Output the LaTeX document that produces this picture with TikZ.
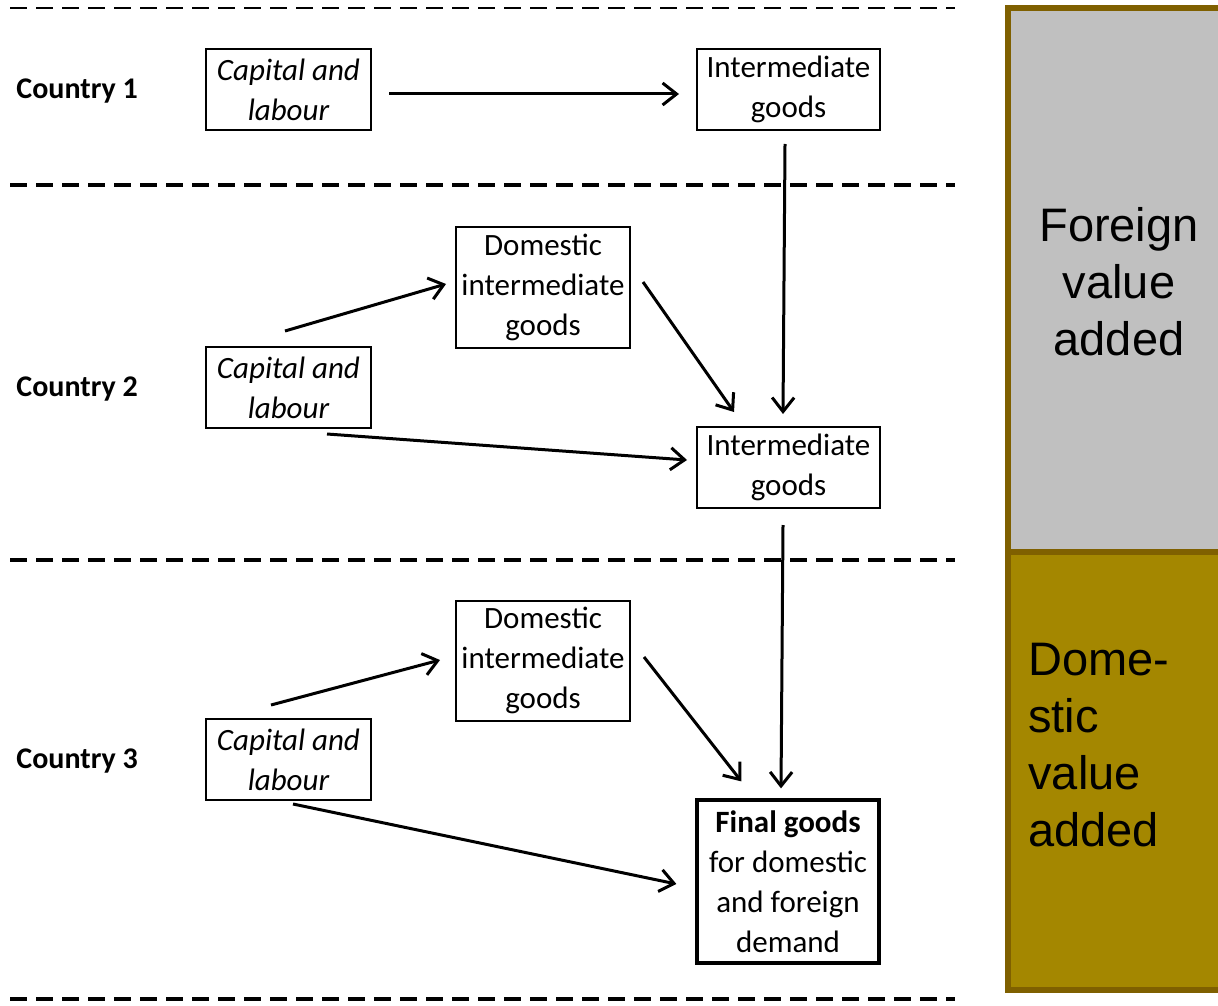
\documentclass[tikz,border=0pt]{standalone}
\usepackage{fontspec}
\setmainfont{Carlito}
\newfontfamily\arialfont{Liberation Sans}
\usetikzlibrary{arrows.meta}
\definecolor{barGray}{RGB}{192,192,192}
\definecolor{barGold}{RGB}{164,135,0}
\definecolor{barEdge}{RGB}{127,96,0}

\begin{document}
\begin{tikzpicture}[x=0.5pt, y=-0.5pt,
        every node/.style={font=\fontsize{15.5}{20}\selectfont},
        box/.style={draw=black, line width=1pt, align=center, inner sep=0pt},
        capbox/.style={box, minimum width=82.5pt, minimum height=40.5pt, font=\fontsize{15.5}{20}\selectfont\itshape},
        intbox/.style={box, minimum width=91.5pt, minimum height=40.5pt},
        dombox/.style={box, minimum width=87pt, minimum height=60pt},
        flow/.style={-{Straight Barb[length=7pt, width=11pt]}, line width=1.5pt, black},
        border/.style={dashed, dash pattern=on 8.5pt off 4.5pt, black}]
    \useasboundingbox (0,0) rectangle (1218,1005);

    % country borders
    \draw[border, line width=1pt] (10,8) -- (955,8);
    \draw[border, line width=2pt] (10,185) -- (955,185);
    \draw[border, line width=2pt] (10,560) -- (955,560);
    \draw[border, line width=2pt] (10,999) -- (955,999);

    % value added bar
    \begin{scope}
        \clip (0,0) rectangle (1218,1005);
        \fill[barGray] (1008,8) rectangle (1240,552);
        \fill[barGold] (1008,552) rectangle (1240,990);
        \draw[barEdge, line width=3pt] (1008,8) rectangle (1240,990);
        \draw[barEdge, line width=3pt] (1008,552) -- (1240,552);
    \end{scope}
    \node[align=center, inner sep=0pt, font=\arialfont\fontsize{23.5}{28.5}\selectfont] (foreign) at (1119,282) {Foreign\\value\\added};
    \node[align=left, anchor=west, inner sep=0pt, font=\arialfont\fontsize{23.5}{28.5}\selectfont] (domestic) at (1028,745) {Dome-\\stic\\value\\added};

    % country 1
    \node[anchor=west, inner sep=0pt, font=\fontsize{15}{20}\selectfont\bfseries] (c1) at (16,91) {Country 1};
    \node[capbox] (cap1) at (288.5,89.5) {Capital and\\labour};
    \node[intbox] (int1) at (788.5,89.5) {Intermediate\\goods};

    % country 2
    \node[anchor=west, inner sep=0pt, font=\fontsize{15}{20}\selectfont\bfseries] (c2) at (16,389) {Country 2};
    \node[capbox] (cap2) at (288.5,387.5) {Capital and\\labour};
    \node[dombox] (dom2) at (543,287.5) {Domestic\\intermediate\\goods};
    \node[intbox] (int2) at (788.5,467.5) {Intermediate\\goods};

    % country 3
    \node[anchor=west, inner sep=0pt, font=\fontsize{15}{20}\selectfont\bfseries] (c3) at (16,761) {Country 3};
    \node[capbox] (cap3) at (288.5,759.5) {Capital and\\labour};
    \node[dombox] (dom3) at (543,660.5) {Domestic\\intermediate\\goods};
    \node[box, line width=1.6pt, minimum width=91pt, minimum height=81.5pt] (fin) at (788,881.5) {\textbf{Final goods}\\for domestic\\and foreign\\demand};

    % flows
    \draw[flow] ([shift={(17,4.5)}]cap1.east) -- ([shift={(-17,4.5)}]int1.west);
    \draw[flow] ([shift={(-3.5,13)}]int1.south) -- ([shift={(-5.5,-12)}]int2.north);
    \draw[flow] ([shift={(-3.5,-15)}]cap2.north) -- ([shift={(-9,-3.5)}]dom2.west);
    \draw[flow] ([shift={(12,-5.5)}]dom2.east) -- ([shift={(38,-14)}]int2.north west);
    \draw[flow] ([shift={(38.5,5)}]cap2.south) -- ([shift={(-9,-7.5)}]int2.west);
    \draw[flow] ([shift={(-5.5,16)}]int2.south) -- ([shift={(-7,-10)}]fin.north);
    \draw[flow] ([shift={(-17.5,-13)}]cap3.north) -- ([shift={(-15,-0.5)}]dom3.west);
    \draw[flow] ([shift={(13,-3.5)}]dom3.east) -- ([shift={(46,-17)}]fin.north west);
    \draw[flow] ([shift={(4.5,3)}]cap3.south) -- ([shift={(-19,2.5)}]fin.west);
\end{tikzpicture}
\end{document}
